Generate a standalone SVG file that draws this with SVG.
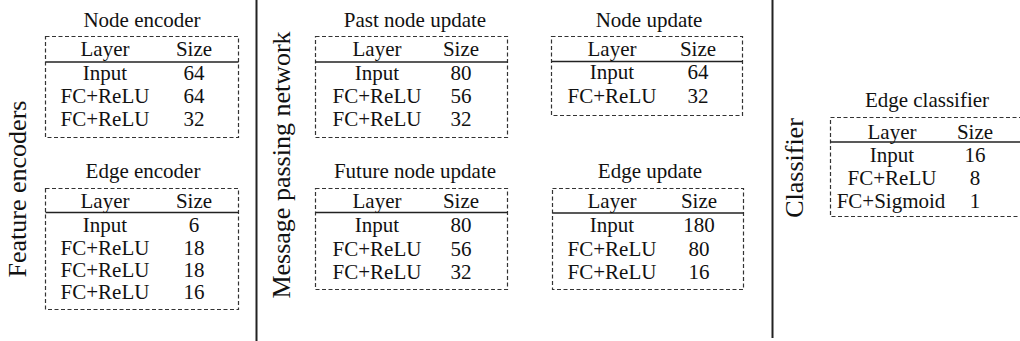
<svg xmlns="http://www.w3.org/2000/svg" width="1020" height="341" viewBox="0 0 1020 341">
<style>
text{font-family:"Liberation Serif","Times New Roman",serif;fill:#111;}
.t{font-size:21px;text-anchor:middle;}
.sec{font-size:26px;text-anchor:middle;}
.box{fill:none;stroke:#333;stroke-width:1.2;stroke-dasharray:4 2.5;}
.hd{stroke:#222;stroke-width:1.6;}
.sep{stroke:#222;stroke-width:2;}
</style>
<g id="connectors">
<line class="sep" x1="256.5" y1="0" x2="256.5" y2="341"/>
<line class="sep" x1="772.5" y1="0" x2="772.5" y2="338"/>
</g>
<g id="labels">
<text class="sec" transform="translate(26,189) rotate(-90)">Feature encoders</text>
<text class="sec" transform="translate(290,165) rotate(-90)">Message passing network</text>
<text class="sec" transform="translate(803,168) rotate(-90)">Classifier</text>
</g>
<g id="node-encoder">
<text class="t" x="142" y="27">Node encoder</text>
<rect class="box" x="45.5" y="36.5" width="193" height="101"/>
<line class="hd" x1="45.5" y1="62" x2="238.5" y2="62"/>
<text class="t" x="105" y="56">Layer</text><text class="t" x="194" y="56">Size</text>
<text class="t" x="105" y="80">Input</text><text class="t" x="194" y="80">64</text>
<text class="t" x="105" y="103">FC+ReLU</text><text class="t" x="194" y="103">64</text>
<text class="t" x="105" y="126">FC+ReLU</text><text class="t" x="194" y="126">32</text>
</g>
<g id="edge-encoder">
<text class="t" x="143" y="178">Edge encoder</text>
<rect class="box" x="45.5" y="188.5" width="193" height="121"/>
<line class="hd" x1="45.5" y1="212.5" x2="238.5" y2="212.5"/>
<text class="t" x="105" y="208">Layer</text><text class="t" x="194" y="208">Size</text>
<text class="t" x="105" y="232">Input</text><text class="t" x="194" y="232">6</text>
<text class="t" x="105" y="255">FC+ReLU</text><text class="t" x="194" y="255">18</text>
<text class="t" x="105" y="277">FC+ReLU</text><text class="t" x="194" y="277">18</text>
<text class="t" x="105" y="299">FC+ReLU</text><text class="t" x="194" y="299">16</text>
</g>
<g id="past-node-update">
<text class="t" x="415" y="27">Past node update</text>
<rect class="box" x="315.5" y="36.5" width="192" height="101"/>
<line class="hd" x1="315.5" y1="62" x2="507.5" y2="62"/>
<text class="t" x="377" y="56">Layer</text><text class="t" x="461" y="56">Size</text>
<text class="t" x="377" y="80">Input</text><text class="t" x="461" y="80">80</text>
<text class="t" x="377" y="103">FC+ReLU</text><text class="t" x="461" y="103">56</text>
<text class="t" x="377" y="126">FC+ReLU</text><text class="t" x="461" y="126">32</text>
</g>
<g id="future-node-update">
<text class="t" x="415" y="178">Future node update</text>
<rect class="box" x="315.5" y="188.5" width="192" height="101"/>
<line class="hd" x1="315.5" y1="212.5" x2="507.5" y2="212.5"/>
<text class="t" x="377" y="208">Layer</text><text class="t" x="461" y="208">Size</text>
<text class="t" x="377" y="232">Input</text><text class="t" x="461" y="232">80</text>
<text class="t" x="377" y="256">FC+ReLU</text><text class="t" x="461" y="256">56</text>
<text class="t" x="377" y="279">FC+ReLU</text><text class="t" x="461" y="279">32</text>
</g>
<g id="node-update">
<text class="t" x="649" y="27">Node update</text>
<rect class="box" x="551.5" y="36.5" width="191" height="79"/>
<line class="hd" x1="551.5" y1="61.5" x2="742.5" y2="61.5"/>
<text class="t" x="612" y="56">Layer</text><text class="t" x="698" y="56">Size</text>
<text class="t" x="612" y="79">Input</text><text class="t" x="698" y="79">64</text>
<text class="t" x="612" y="103">FC+ReLU</text><text class="t" x="698" y="103">32</text>
</g>
<g id="edge-update">
<text class="t" x="650" y="178">Edge update</text>
<rect class="box" x="552.5" y="188.5" width="191" height="101"/>
<line class="hd" x1="552.5" y1="213" x2="743.5" y2="213"/>
<text class="t" x="612" y="208">Layer</text><text class="t" x="699" y="208">Size</text>
<text class="t" x="612" y="232">Input</text><text class="t" x="699" y="232">180</text>
<text class="t" x="612" y="256">FC+ReLU</text><text class="t" x="699" y="256">80</text>
<text class="t" x="612" y="279">FC+ReLU</text><text class="t" x="699" y="279">16</text>
</g>
<g id="edge-classifier">
<text class="t" x="927" y="107">Edge classifier</text>
<rect class="box" x="830.5" y="117.5" width="200" height="99"/>
<line class="hd" x1="830.5" y1="142" x2="1020" y2="142"/>
<text class="t" x="892" y="139">Layer</text><text class="t" x="975" y="139">Size</text>
<text class="t" x="892" y="162">Input</text><text class="t" x="975" y="162">16</text>
<text class="t" x="892" y="185">FC+ReLU</text><text class="t" x="975" y="185">8</text>
<text class="t" x="891" y="208">FC+Sigmoid</text><text class="t" x="975" y="208">1</text>
</g>
</svg>
